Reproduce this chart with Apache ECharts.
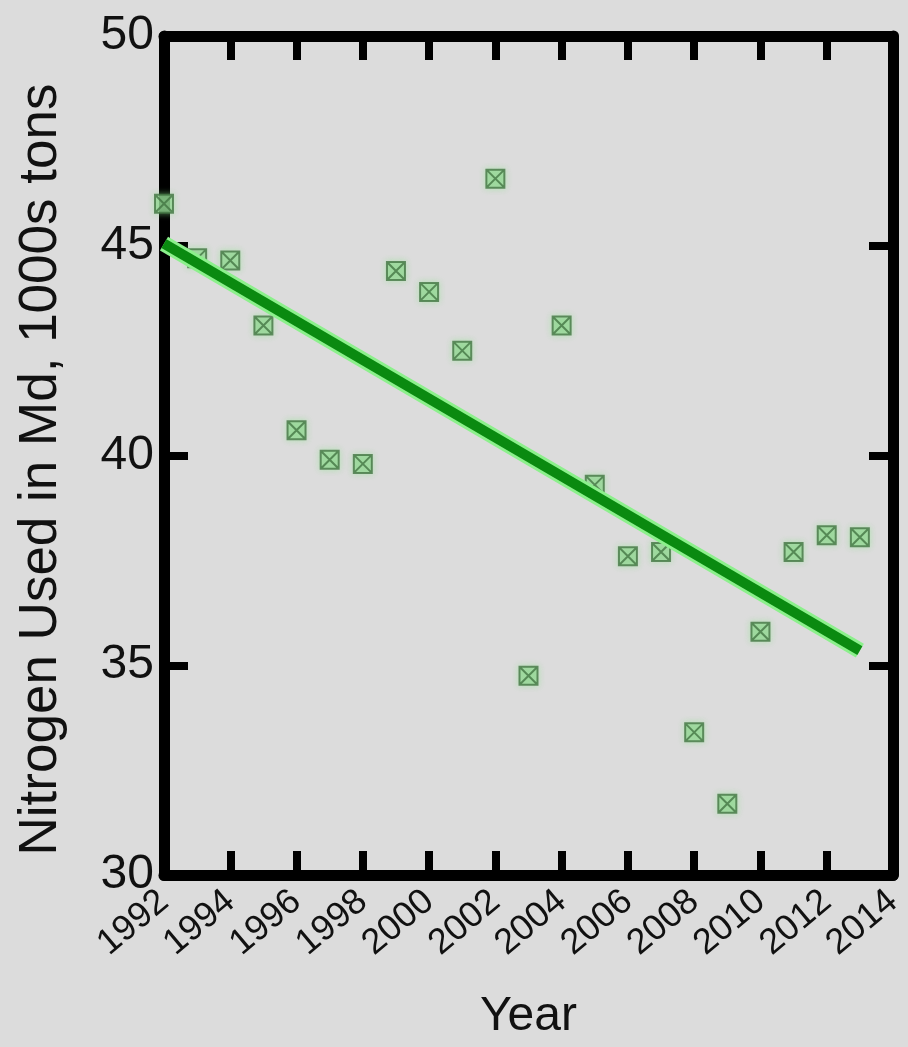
<!DOCTYPE html>
<html>
<head>
<meta charset="utf-8">
<script src="https://cdn.jsdelivr.net/npm/echarts@6/dist/echarts.min.js"></script>
<style>
html,body{margin:0;padding:0;background:#dcdcdc;}
#chart{width:908px;height:1047px;}
</style>
</head>
<body>
<div id="chart"></div>
<script>
const years = [1992,1993,1994,1995,1996,1997,1998,1999,2000,2001,2002,2003,2004,2005,2006,2007,2008,2009,2010,2011,2012,2013];
const nitrogen = [46.0,44.7,44.65,43.1,40.6,39.9,39.8,44.4,43.9,42.5,46.6,34.75,43.1,39.3,37.6,37.7,33.4,31.7,35.8,37.7,38.1,38.05];
const trendYears = [1992, 2013];
const trendValues = [45.05, 35.35];
const xTicks = [1992,1994,1996,1998,2000,2002,2004,2006,2008,2010,2012,2014];
const yTicks = [30,35,40,45,50];

const FONT = 'Liberation Sans, Arial, sans-serif';
const chart = echarts.init(document.getElementById('chart'), null, {renderer:'canvas'});

const axisLine = {show:true, onZero:false, lineStyle:{color:'#000', width:11}};
const axisTick = {show:true, inside:true, length:24, lineStyle:{color:'#000', width:8}};

const scatterData = years.map((y,i)=>[y, nitrogen[i]]);
const trendData = trendYears.map((y,i)=>[y, trendValues[i]]);

chart.setOption({
  backgroundColor:'#dcdcdc',
  animation:false,
  grid:{left:164, right:15, top:36, bottom:172, containLabel:false},
  xAxis:[{
    type:'value', position:'bottom', min:xTicks[0], max:xTicks[xTicks.length-1], interval:2,
    axisLine, axisTick, splitLine:{show:false},
    axisLabel:{rotate:40, margin:22, fontSize:36, color:'#111', fontFamily:FONT, formatter:v=>String(v)},
    name:'Year', nameLocation:'middle', nameGap:118,
    nameTextStyle:{fontSize:48, color:'#111', fontFamily:FONT}
  },{
    type:'value', position:'top', min:xTicks[0], max:xTicks[xTicks.length-1], interval:2,
    axisLine, axisTick, axisLabel:{show:false}, splitLine:{show:false}
  }],
  yAxis:[{
    type:'value', position:'left', min:yTicks[0], max:yTicks[yTicks.length-1], interval:5,
    axisLine, axisTick, splitLine:{show:false},
    axisLabel:{margin:10, fontSize:48, color:'#111', fontFamily:FONT},
    name:'Nitrogen Used in Md, 1000s tons', nameLocation:'middle', nameGap:96, nameRotate:90,
    nameTextStyle:{fontSize:53, color:'#111', fontFamily:FONT, padding:[0,0,0,-28]}
  },{
    type:'value', position:'right', min:yTicks[0], max:yTicks[yTicks.length-1], interval:5,
    axisLine, axisTick, axisLabel:{show:false}, splitLine:{show:false}
  }],
  series:[{
    type:'scatter', data:scatterData, z:2,
    symbol:'path://M0 0H10V10H0Z M0 0L10 10 M10 0L0 10',
    symbolSize:18,
    itemStyle:{color:'rgba(150,210,150,0.85)', borderColor:'#437543', borderWidth:2,
      shadowBlur:6, shadowColor:'rgba(140,230,140,0.6)'}
  },{
    type:'line', data:trendData, z:4, symbol:'none',
    lineStyle:{color:'#8cf08c', width:16}
  },{
    type:'line', data:trendData, z:5, symbol:'none',
    lineStyle:{color:'#0a8a10', width:10}
  }]
});
</script>
</body>
</html>
